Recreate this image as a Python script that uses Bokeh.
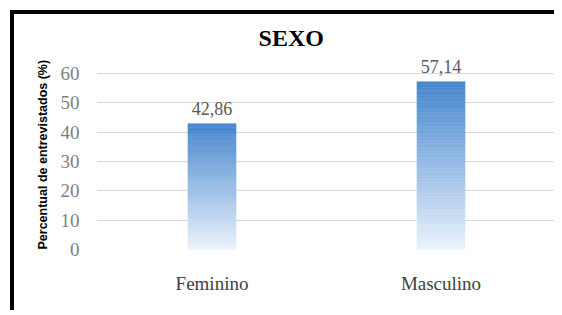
from bokeh.plotting import figure
from bokeh.models import Label, FixedTicker, ColumnDataSource, Title
from bokeh.embed import file_html
from bokeh.resources import INLINE

categories = ["Feminino", "Masculino"]
percentages = [42.86, 57.14]
pct_labels = ["42,86", "57,14"]
y_ticks = [0, 10, 20, 30, 40, 50, 60]
title_text = "SEXO"
y_title = "Percentual de entrevistados (%)"

SERIF = "Times New Roman"

# frame extends above 60 so the title and value labels sit inside it
p = figure(x_range=categories, y_range=(0, 78), width=544, height=300,
           output_backend="svg", toolbar_location=None,
           min_border_left=83, min_border_right=3,
           min_border_top=6, min_border_bottom=65)
p.styles = {"border-left": "4px solid black", "border-top": "4px solid black",
            "margin-left": "10px", "margin-top": "10px"}
p.outline_line_color = None
p.background_fill_color = "white"
p.border_fill_color = "white"

# gradient bars built from stacked slices of each bar's value
N = 60
top_rgb = (70, 134, 206)
bot_rgb = (235, 243, 252)
xs, bottoms, tops, colors = [], [], [], []
for cat, v in zip(categories, percentages):
    for i in range(N):
        t = (i + 0.5) / N
        c = tuple(int(round(bot_rgb[k] + (top_rgb[k] - bot_rgb[k]) * t)) for k in range(3))
        xs.append(cat)
        bottoms.append(v * i / N)
        tops.append(v * (i + 1) / N)
        colors.append("#%02x%02x%02x" % c)
src = ColumnDataSource(dict(x=xs, bottom=bottoms, top=tops, color=colors))
p.vbar(x="x", bottom="bottom", top="top", width=0.21, source=src,
       fill_color="color", line_color="color", line_width=0.5)

# value labels (x in the categorical range's synthetic coordinates)
for i, (v, t) in enumerate(zip(percentages, pct_labels)):
    p.add_layout(Label(x=i + 0.5, y=v, text=t, text_align="center",
                       text_baseline="middle", y_offset=15,
                       text_font=SERIF, text_font_size="18px",
                       text_color="#595959"))

# axes
p.yaxis.ticker = FixedTicker(ticks=y_ticks)
p.yaxis.axis_line_color = None
p.yaxis.major_tick_line_color = None
p.yaxis.minor_tick_line_color = None
p.yaxis.major_label_standoff = 12
p.yaxis.major_label_text_font = SERIF
p.yaxis.major_label_text_font_size = "19px"
p.yaxis.major_label_text_color = "#7f7f7f"

p.add_layout(Title(text=y_title, align="left", text_font="Liberation Sans",
                   text_font_style="bold", text_font_size="12.5px",
                   text_color="#000000", standoff=15), "left")

p.xaxis.axis_line_color = None
p.xaxis.major_tick_line_color = None
p.xaxis.minor_tick_line_color = None
p.xaxis.major_label_standoff = 17
p.xaxis.major_label_text_font = SERIF
p.xaxis.major_label_text_font_size = "19px"
p.xaxis.major_label_text_color = "#404040"

p.xgrid.grid_line_color = None
p.ygrid.grid_line_color = "#d9d9d9"
p.ygrid.grid_line_width = 1

# chart title
p.add_layout(Label(x=0.846, y=71.9, text=title_text, text_align="center",
                   text_baseline="middle", text_font=SERIF,
                   text_font_size="24px", text_font_style="bold",
                   text_color="#000000"))

open("out.html", "w").write(file_html(p, INLINE))
